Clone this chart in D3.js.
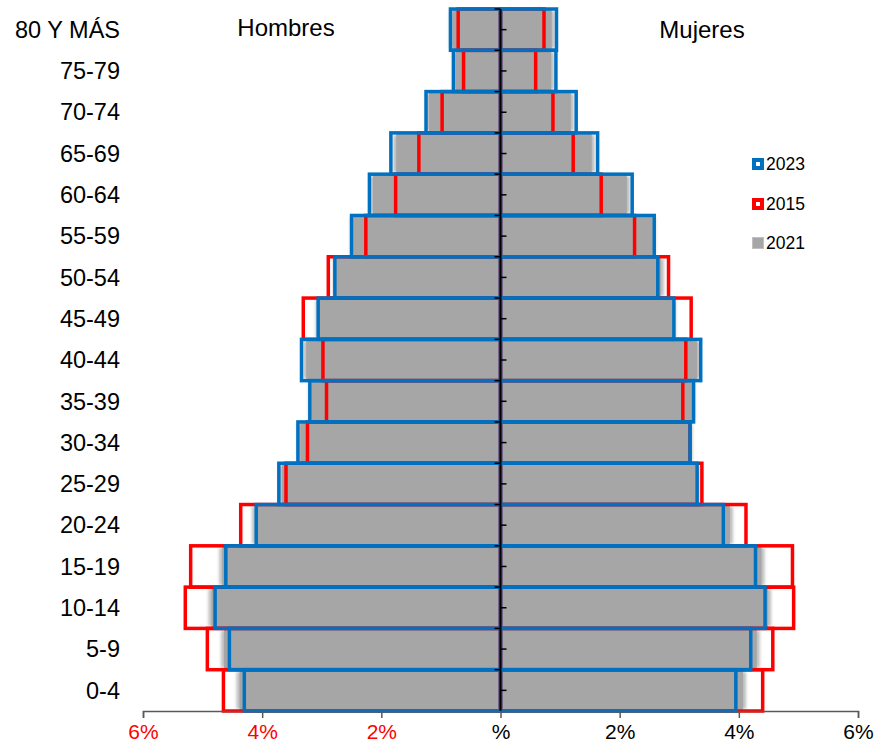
<!DOCTYPE html>
<html lang="es">
<head>
<meta charset="UTF-8">
<title>Pirámide de población</title>
<style>
    body { margin: 0; background: #fff; }
    svg { display: block; font-family: "Liberation Sans", Arial, sans-serif; }
</style>
</head>
<body>
<svg width="876" height="744" viewBox="0 0 876 744"></svg>
<script src="https://cdn.jsdelivr.net/npm/d3@7"></script>
<script>
// grupos de edad, de arriba hacia abajo
const ages = ['80 Y MÁS', '75-79', '70-74', '65-69', '60-64', '55-59', '50-54', '45-49',
    '40-44', '35-39', '30-34', '25-29', '20-24', '15-19', '10-14', '5-9', '0-4'];

// porcentajes, hombres
const men2021 = [0.80, 0.75, 1.20, 1.75, 2.14, 2.47, 2.76, 3.05, 3.26, 3.17, 3.36, 3.67, 4.12, 4.67, 4.85, 4.64, 4.38];
const men2015 = [0.71, 0.62, 0.98, 1.37, 1.76, 2.26, 2.89, 3.31, 2.98, 2.92, 3.24, 3.60, 4.36, 5.20, 5.29, 4.92, 4.65];
const men2023 = [0.84, 0.79, 1.25, 1.84, 2.20, 2.50, 2.78, 3.06, 3.34, 3.20, 3.40, 3.72, 4.10, 4.61, 4.79, 4.55, 4.30];

// porcentajes, mujeres
const women2021 = [0.86, 0.85, 1.18, 1.53, 2.12, 2.55, 2.69, 2.89, 3.30, 3.21, 3.17, 3.29, 3.85, 4.38, 4.49, 4.30, 4.07];
const women2015 = [0.73, 0.59, 0.88, 1.22, 1.69, 2.25, 2.82, 3.20, 3.11, 3.06, 3.18, 3.38, 4.12, 4.90, 4.92, 4.57, 4.40];
const women2023 = [0.94, 0.93, 1.27, 1.63, 2.21, 2.58, 2.64, 2.91, 3.36, 3.24, 3.18, 3.30, 3.74, 4.28, 4.44, 4.20, 3.95];

const tickValues = [-6, -4, -2, 0, 2, 4, 6];
const tickLabels = ['6%', '4%', '2%', '%', '2%', '4%', '6%'];
const legendLabels = ['2023', '2015', '2021'];

const svg = d3.select('svg');

const x = d3.scaleLinear().domain([-6, 6]).range([143, 858]);
const y = d3.scaleBand().domain(ages).range([9, 711]).padding(0);

const BLUE = '#0070c0', RED = '#ff0000', GRAY = '#a6a6a6';

// sombra suave de las barras grises
const defs = svg.append('defs');
const f = defs.append('filter').attr('id', 'soft').attr('x', '-10%').attr('y', '-10%').attr('width', '120%').attr('height', '120%');
f.append('feGaussianBlur').attr('stdDeviation', 1.6);

function bars(values, side) {
    return values.map((v, i) => ({ age: ages[i], v: v, side: side }));
}
function x0(d) { return d.side < 0 ? x(-d.v) : x(0); }
function w(d) { return Math.abs(x(d.v) - x(0)); }

const grays = bars(men2021, -1).concat(bars(women2021, 1));
const reds = bars(men2015, -1).concat(bars(women2015, 1));
const blues = bars(men2023, -1).concat(bars(women2023, 1));

// sombra gris
svg.append('g').selectAll('rect').data(grays).enter().append('rect')
    .attr('x', d => x0(d) - (d.side < 0 ? 3 : 0))
    .attr('y', d => y(d.age) + 2)
    .attr('width', d => w(d) + 3)
    .attr('height', y.bandwidth() - 4)
    .attr('fill', '#bdbdbd')
    .attr('filter', 'url(#soft)');

// 2021 (gris)
svg.append('g').selectAll('rect').data(grays).enter().append('rect')
    .attr('x', d => x0(d))
    .attr('y', d => y(d.age))
    .attr('width', d => w(d))
    .attr('height', y.bandwidth())
    .attr('fill', GRAY);

// 2015 (rojo)
svg.append('g').selectAll('rect').data(reds).enter().append('rect')
    .attr('x', d => x0(d))
    .attr('y', d => y(d.age))
    .attr('width', d => w(d))
    .attr('height', y.bandwidth())
    .attr('fill', 'none')
    .attr('stroke', RED)
    .attr('stroke-width', 3.5);

// 2023 (azul)
svg.append('g').selectAll('rect').data(blues).enter().append('rect')
    .attr('x', d => x0(d))
    .attr('y', d => y(d.age))
    .attr('width', d => w(d))
    .attr('height', y.bandwidth())
    .attr('fill', 'none')
    .attr('stroke', BLUE)
    .attr('stroke-width', 3.5);

// eje central
const cx = x(0);
const axisC = svg.append('g');
axisC.append('line').attr('x1', cx).attr('x2', cx).attr('y1', 9).attr('y2', 711)
    .attr('stroke', '#000').attr('stroke-width', 2);
axisC.selectAll('.tb').data(ages).enter().append('line')
    .attr('x1', cx - 6).attr('x2', cx)
    .attr('y1', d => y(d)).attr('y2', d => y(d))
    .attr('stroke', '#000').attr('stroke-width', 1.5);
axisC.selectAll('.tm').data(ages).enter().append('line')
    .attr('x1', cx).attr('x2', cx + 6)
    .attr('y1', d => y(d) + y.bandwidth() / 2).attr('y2', d => y(d) + y.bandwidth() / 2)
    .attr('stroke', '#000').attr('stroke-width', 1.5);

// eje inferior
const axisB = svg.append('g').attr('transform', 'translate(0,711)')
    .call(d3.axisBottom(x).tickValues(tickValues)
        .tickFormat((d, i) => tickLabels[i]).tickSizeOuter(0).tickSize(7));
axisB.select('.domain').attr('stroke', '#595959').attr('stroke-width', 1.5);
axisB.selectAll('.tick line').attr('stroke', '#595959').attr('stroke-width', 1.5);
axisB.selectAll('.tick text')
    .attr('y', 28)
    .attr('dy', 0)
    .attr('font-size', 21)
    .attr('font-family', '"Liberation Sans", Arial, sans-serif')
    .attr('fill', d => d < 0 ? RED : '#000');

// etiquetas de edad
svg.append('g').selectAll('text').data(ages).enter().append('text')
    .attr('x', 120)
    .attr('y', d => y(d) + y.bandwidth() / 2)
    .attr('dy', '0.35em')
    .attr('text-anchor', 'end')
    .attr('font-size', 23.5)
    .attr('fill', '#000')
    .text(d => d);

svg.append('text').attr('x', 286).attr('y', 28).attr('dy', '0.35em')
    .attr('text-anchor', 'middle').attr('font-size', 24).text('Hombres');
svg.append('text').attr('x', 702).attr('y', 30).attr('dy', '0.35em')
    .attr('text-anchor', 'middle').attr('font-size', 24).text('Mujeres');

// leyenda
const legend = svg.append('g').attr('transform', 'translate(752,0)');
const ly = [164, 204, 243];
legendLabels.forEach((t, i) => {
    const g = legend.append('g').attr('transform', 'translate(0,' + ly[i] + ')');
    if (i === 2) {
        g.append('rect').attr('x', 0.5).attr('y', -5.5).attr('width', 11).attr('height', 11)
            .attr('fill', GRAY).attr('stroke', '#c0c0c0').attr('stroke-width', 1);
    } else {
        g.append('rect').attr('x', 2).attr('y', -4).attr('width', 8).attr('height', 8)
            .attr('fill', '#fff').attr('stroke', i === 0 ? BLUE : RED).attr('stroke-width', 4);
    }
    g.append('text').attr('x', 14).attr('y', 0).attr('dy', '0.36em')
        .attr('font-size', 17.5).attr('fill', '#000').text(t);
});
</script>
</body>
</html>
